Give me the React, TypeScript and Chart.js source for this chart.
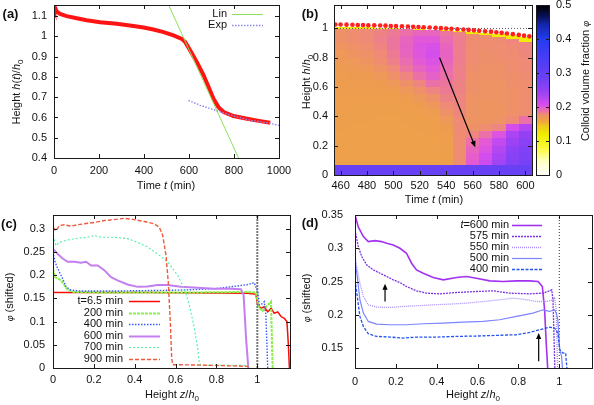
import React, { useEffect, useRef } from 'react';
import { Chart, registerables } from 'chart.js';

Chart.register(...registerables);

const PAGE_W = 594;
const PAGE_H = 405;
const FONT = '"Liberation Sans", Arial, Helvetica, sans-serif';

type Pt = [number, number];

// ---------------- (a) sediment height ----------------
const aXTicks = [0, 200, 400, 600, 800, 1000];
const aYTicks = [0.4, 0.5, 0.6, 0.7, 0.8, 0.9, 1, 1.1];
const aHeight: Pt[] = [
  [0, 1.156], [2, 1.148], [5, 1.142], [12, 1.123], [27, 1.111], [56, 1.1], [101, 1.09], [145, 1.08],
  [205, 1.07], [279, 1.062], [353, 1.051], [398, 1.044], [442, 1.034], [487, 1.021], [531, 1.005],
  [568, 0.988], [583, 0.972], [605, 0.931], [635, 0.873], [665, 0.808], [687, 0.75], [709, 0.692],
  [731, 0.651], [754, 0.627], [798, 0.607], [858, 0.594], [917, 0.582], [961, 0.574],
];
const aLin: Pt[] = [[509, 1.156], [820, 0.4]];
const aExp: Pt[] = [[598, 0.684], [650, 0.66], [724, 0.633], [798, 0.607], [872, 0.586], [947, 0.574], [1000, 0.561]];

// ---------------- (b) heat map ----------------
const bXTicks = [460, 480, 500, 520, 540, 560, 580, 600];
const bYTicks = [0, 0.2, 0.4, 0.6, 0.8, 1];
const cbTicks = [0, 0.1, 0.2, 0.3, 0.4, 0.5];
const heatTimes = [460, 470, 480, 490, 500, 510, 520, 530, 540, 550, 560, 570, 580, 590, 600];
const heatRowEdges = [0, 0.065, 0.1, 0.15, 0.2, 0.25, 0.3, 0.35, 0.4, 0.45, 0.5, 0.55, 0.6, 0.65, 0.7, 0.75, 0.8, 0.85, 0.9, 0.95, 1.0];
const heatPhi = [
  [0.29, 0.165, 0.165, 0.165, 0.165, 0.165, 0.166, 0.166, 0.166, 0.167, 0.167, 0.168, 0.168, 0.169, 0.17, 0.171, 0.172, 0.174, 0.176, 0.176],
  [0.29, 0.164, 0.165, 0.165, 0.165, 0.165, 0.165, 0.166, 0.166, 0.167, 0.167, 0.168, 0.169, 0.17, 0.171, 0.172, 0.174, 0.176, 0.178, 0.178],
  [0.29, 0.164, 0.165, 0.165, 0.165, 0.165, 0.165, 0.166, 0.166, 0.166, 0.167, 0.168, 0.169, 0.17, 0.172, 0.174, 0.176, 0.178, 0.18, 0.18],
  [0.29, 0.164, 0.165, 0.165, 0.165, 0.165, 0.165, 0.165, 0.166, 0.166, 0.167, 0.168, 0.17, 0.172, 0.175, 0.178, 0.18, 0.182, 0.184, 0.183],
  [0.29, 0.164, 0.165, 0.165, 0.165, 0.165, 0.165, 0.165, 0.166, 0.166, 0.167, 0.169, 0.172, 0.176, 0.18, 0.184, 0.186, 0.188, 0.188, 0.186],
  [0.29, 0.164, 0.165, 0.165, 0.165, 0.165, 0.165, 0.166, 0.166, 0.167, 0.169, 0.172, 0.176, 0.182, 0.188, 0.192, 0.195, 0.196, 0.195, 0.19],
  [0.29, 0.165, 0.165, 0.165, 0.165, 0.165, 0.166, 0.166, 0.167, 0.169, 0.172, 0.176, 0.182, 0.19, 0.196, 0.2, 0.204, 0.205, 0.202, 0.195],
  [0.29, 0.165, 0.165, 0.165, 0.165, 0.166, 0.166, 0.167, 0.169, 0.172, 0.176, 0.182, 0.19, 0.197, 0.202, 0.206, 0.21, 0.208, 0.202, 0.195],
  [0.29, 0.166, 0.166, 0.166, 0.167, 0.168, 0.17, 0.172, 0.176, 0.18, 0.183, 0.186, 0.188, 0.19, 0.192, 0.194, 0.196, 0.195, 0.192, 0.188],
  [0.29, 0.178, 0.178, 0.178, 0.178, 0.179, 0.18, 0.18, 0.181, 0.182, 0.182, 0.183, 0.183, 0.184, 0.184, 0.185, 0.185, 0.185, 0.185, 0.183],
  [0.29, 0.2, 0.198, 0.195, 0.19, 0.182, 0.176, 0.175, 0.175, 0.175, 0.175, 0.176, 0.176, 0.176, 0.177, 0.178, 0.178, 0.178, 0.179, 0.18],
  [0.29, 0.215, 0.212, 0.205, 0.2, 0.19, 0.178, 0.174, 0.174, 0.174, 0.175, 0.175, 0.175, 0.176, 0.176, 0.177, 0.177, 0.178, 0.178, 0.18],
  [0.29, 0.24, 0.235, 0.228, 0.22, 0.205, 0.182, 0.175, 0.174, 0.174, 0.175, 0.175, 0.175, 0.176, 0.176, 0.177, 0.178, 0.178, 0.179, 0.18],
  [0.29, 0.265, 0.26, 0.255, 0.245, 0.235, 0.21, 0.18, 0.176, 0.176, 0.176, 0.176, 0.177, 0.177, 0.178, 0.178, 0.179, 0.18, 0.182, 0.18],
  [0.29, 0.275, 0.272, 0.268, 0.26, 0.25, 0.23, 0.19, 0.178, 0.178, 0.178, 0.178, 0.178, 0.179, 0.18, 0.18, 0.181, 0.182, 0.184, 0.18],
];
const heatTop = [1.013, 1.011, 1.008, 1.006, 1.003, 0.999, 0.994, 0.991, 0.986, 0.98, 0.975, 0.968, 0.96, 0.952, 0.942];
const heatStripBottom = [0.998, 0.998, 0.997, 0.996, 0.995, 0.993, 0.99, 0.986, 0.98, 0.974, 0.965, 0.955, 0.942, 0.928, 0.91];
const heatStripPhi = 0.12;
const bInterface: Pt[] = [
  [456, 1.027], [460, 1.027], [464.5, 1.026], [469, 1.025], [473, 1.024], [477, 1.023], [481, 1.022], [485.5, 1.021],
  [490, 1.02], [494, 1.019], [498, 1.017], [502, 1.016], [506.5, 1.015], [511, 1.013], [515, 1.012], [519, 1.01],
  [523, 1.008], [527.5, 1.006], [532, 1.004], [536, 1.002], [540, 1.0], [544, 0.998], [548.5, 0.995], [553, 0.993],
  [557, 0.99], [561, 0.987], [565, 0.984], [569.5, 0.981], [574, 0.978], [578, 0.974], [582, 0.97], [586, 0.966],
  [590.5, 0.961], [595, 0.956], [599, 0.951], [603, 0.946],
];
const bRefLine: Pt[] = [[455, 1], [605, 1]];
const bArrow: Pt[] = [[535, 0.8], [562, 0.19]];

// ---------------- (c) profiles ----------------
const zTicks = [0, 0.2, 0.4, 0.6, 0.8, 1];
const cYTicks = [0, 0.05, 0.1, 0.15, 0.2, 0.25, 0.3];
const c65: Pt[] = [[0, 0.163], [0.46, 0.163], [0.79, 0.162], [0.953, 0.161], [0.993, 0.159], [1.002, 0.136], [1.018, 0.129], [1.034, 0.132], [1.051, 0.121], [1.067, 0.129], [1.083, 0.118], [1.1, 0.121], [1.116, 0.111], [1.132, 0.107], [1.145, 0.1], [1.152, 0.05], [1.157, 0]];
const c200: Pt[] = [[0, 0.214], [0.01, 0.196], [0.023, 0.193], [0.039, 0.189], [0.055, 0.179], [0.072, 0.168], [0.104, 0.164], [0.219, 0.163], [0.463, 0.163], [0.708, 0.163], [0.953, 0.164], [0.993, 0.163], [1.002, 0.143], [1.01, 0.129], [1.026, 0.123], [1.042, 0.132], [1.059, 0.139], [1.067, 0.143], [1.075, 0]];
const c400: Pt[] = [[0, 0.25], [0.01, 0.229], [0.02, 0.218], [0.031, 0.207], [0.047, 0.193], [0.064, 0.175], [0.088, 0.168], [0.137, 0.166], [0.219, 0.166], [0.3, 0.166], [0.463, 0.167], [0.626, 0.168], [0.79, 0.171], [0.887, 0.176], [0.953, 0.18], [0.985, 0.184], [1.002, 0.164], [1.01, 0.136], [1.026, 0.139], [1.034, 0.143], [1.042, 0.114], [1.051, 0]];
const c600: Pt[] = [[0, 0.257], [0.023, 0.246], [0.047, 0.236], [0.072, 0.229], [0.104, 0.229], [0.137, 0.227], [0.162, 0.229], [0.186, 0.221], [0.219, 0.221], [0.251, 0.211], [0.284, 0.196], [0.316, 0.189], [0.365, 0.18], [0.414, 0.175], [0.463, 0.176], [0.512, 0.179], [0.561, 0.179], [0.626, 0.175], [0.708, 0.173], [0.79, 0.171], [0.871, 0.171], [0.92, 0.17], [0.933, 0.157], [0.945, 0.064], [0.956, 0]];
const c700: Pt[] = [[0, 0.286], [0.015, 0.264], [0.031, 0.271], [0.072, 0.276], [0.121, 0.28], [0.17, 0.282], [0.202, 0.286], [0.235, 0.282], [0.3, 0.282], [0.365, 0.279], [0.414, 0.271], [0.463, 0.261], [0.512, 0.246], [0.561, 0.229], [0.61, 0.2], [0.643, 0.171], [0.667, 0.136], [0.692, 0.086], [0.708, 0.043], [0.716, 0.011], [0.724, 0.006], [0.953, 0.006], [0.961, 0]];
const c900: Pt[] = [[0, 0.3036], [0.015, 0.296], [0.031, 0.307], [0.055, 0.309], [0.088, 0.306], [0.121, 0.309], [0.153, 0.311], [0.202, 0.314], [0.251, 0.318], [0.3, 0.32], [0.349, 0.323], [0.398, 0.32], [0.447, 0.316], [0.496, 0.311], [0.52, 0.3036], [0.537, 0.286], [0.553, 0.243], [0.564, 0.186], [0.574, 0.1], [0.581, 0.021], [0.586, 0.007], [0.626, 0.007], [0.79, 0.0057], [0.953, 0.0036], [0.961, 0]];
const cRefLine: Pt[] = [[1, 0], [1, 0.33]];

// ---------------- (d) profiles ----------------
const dYTicks = [0.15, 0.2, 0.25, 0.3, 0.35];
const d600: Pt[] = [[0, 0.35], [0.016, 0.332], [0.041, 0.3175], [0.065, 0.31], [0.098, 0.3115], [0.13, 0.31], [0.155, 0.3075], [0.187, 0.305], [0.22, 0.3], [0.252, 0.2925], [0.277, 0.2775], [0.301, 0.2675], [0.334, 0.2625], [0.383, 0.256], [0.432, 0.2525], [0.497, 0.256], [0.546, 0.2575], [0.594, 0.255], [0.66, 0.251], [0.725, 0.25], [0.79, 0.251], [0.855, 0.251], [0.896, 0.25], [0.917, 0.2425], [0.928, 0.2075], [0.936, 0.1575], [0.945, 0.11]];
const d575: Pt[] = [[0.003, 0.3225], [0.016, 0.3025], [0.033, 0.2875], [0.057, 0.275], [0.09, 0.2675], [0.122, 0.2625], [0.155, 0.2575], [0.187, 0.2525], [0.22, 0.2485], [0.252, 0.2425], [0.301, 0.236], [0.35, 0.2325], [0.415, 0.2315], [0.497, 0.2335], [0.594, 0.235], [0.676, 0.236], [0.757, 0.2325], [0.855, 0.2315], [0.92, 0.2325], [0.953, 0.236], [0.963, 0.2375], [0.969, 0.2225], [0.974, 0.1675], [0.979, 0.11]];
const d550: Pt[] = [[0, 0.29], [0.008, 0.2725], [0.024, 0.2475], [0.041, 0.2275], [0.065, 0.215], [0.106, 0.2115], [0.171, 0.211], [0.236, 0.2125], [0.301, 0.2135], [0.383, 0.215], [0.464, 0.216], [0.546, 0.2175], [0.627, 0.22], [0.708, 0.2225], [0.774, 0.225], [0.822, 0.2235], [0.888, 0.22], [0.936, 0.22], [0.969, 0.2225], [0.977, 0.2265], [0.985, 0.2075], [0.992, 0.11]];
const d500: Pt[] = [[0, 0.2825], [0.011, 0.2575], [0.024, 0.2225], [0.041, 0.2025], [0.065, 0.19], [0.106, 0.186], [0.171, 0.185], [0.252, 0.185], [0.334, 0.1865], [0.432, 0.1875], [0.529, 0.189], [0.627, 0.19], [0.708, 0.1925], [0.79, 0.1975], [0.871, 0.2025], [0.92, 0.2075], [0.953, 0.205], [0.977, 0.2075], [0.985, 0.2025], [0.993, 0.1925], [1.002, 0.1475], [1.011, 0.1375], [1.018, 0.11]];
const d400: Pt[] = [[0, 0.2525], [0.011, 0.2275], [0.024, 0.1975], [0.041, 0.1825], [0.065, 0.1715], [0.106, 0.1675], [0.171, 0.1665], [0.236, 0.165], [0.301, 0.1665], [0.399, 0.1665], [0.497, 0.1675], [0.594, 0.168], [0.692, 0.169], [0.79, 0.17], [0.855, 0.1735], [0.904, 0.1775], [0.953, 0.1815], [0.977, 0.18], [0.993, 0.1725], [1.002, 0.1475], [1.018, 0.1425], [1.031, 0.1425], [1.037, 0.12], [1.044, 0.11]];
const dRefLine: Pt[] = [[1, 0.12], [1, 0.35]];
const dArrows: Pt[][] = [[[0.147, 0.22], [0.147, 0.2465]], [[0.899, 0.13], [0.899, 0.1725]]];

// ---------------- palette (colour map of panel b) ----------------
const palStops: number[][] = [
  [0, 255, 255, 255], [0.04, 255, 255, 200], [0.08, 250, 250, 60], [0.12, 240, 238, 0], [0.145, 240, 200, 30],
  [0.16, 238, 165, 65], [0.17, 238, 155, 82], [0.18, 238, 138, 118], [0.19, 236, 112, 168], [0.2, 228, 90, 212],
  [0.21, 212, 78, 236], [0.23, 178, 70, 242], [0.25, 148, 65, 245], [0.29, 105, 65, 245], [0.35, 70, 60, 245],
  [0.4, 35, 60, 240], [0.44, 20, 40, 180], [0.47, 10, 15, 80], [0.5, 0, 0, 0],
];
function palette(p: number): string {
  const s = palStops;
  if (p <= s[0][0]) return `rgb(${s[0][1]},${s[0][2]},${s[0][3]})`;
  for (let i = 1; i < s.length; i++) {
    if (p <= s[i][0]) {
      const f = (p - s[i - 1][0]) / (s[i][0] - s[i - 1][0]);
      const c = [1, 2, 3].map((k) => Math.round(s[i - 1][k] + f * (s[i][k] - s[i - 1][k])));
      return `rgb(${c[0]},${c[1]},${c[2]})`;
    }
  }
  const l = s[s.length - 1];
  return `rgb(${l[1]},${l[2]},${l[3]})`;
}

// ---------------- drawing helpers ----------------
interface Seg { t: string; i?: boolean; sub?: boolean; sz?: number; b?: boolean }
interface TitleSpec { x: number; y: number; rot?: number; segs: Seg[]; size?: number }
interface LegendSpec { x: number; y: number; dy: number; len: number; gap: number }
interface PanelSpec {
  titles: TitleSpec[];
  legend?: LegendSpec;
  arrows?: Pt[][];
  heat?: boolean;
  colorbar?: boolean;
  tickLen: number;
}

function segFont(s: Seg, size: number) {
  const sz = s.sz ?? (s.sub ? Math.round(size * 0.72) : size);
  return `${s.i ? 'italic ' : ''}${s.b ? 'bold ' : ''}${sz}px ${FONT}`;
}

function drawRich(ctx: CanvasRenderingContext2D, segs: Seg[], x: number, y: number, rot: number, size: number, align: 'center' | 'right' | 'left') {
  ctx.save();
  ctx.translate(x, y);
  if (rot) ctx.rotate(rot);
  let total = 0;
  const widths = segs.map((s) => {
    ctx.font = segFont(s, size);
    const w = ctx.measureText(s.t).width;
    total += w;
    return w;
  });
  let cx = align === 'center' ? -total / 2 : align === 'right' ? -total : 0;
  ctx.textBaseline = 'middle';
  ctx.textAlign = 'left';
  ctx.fillStyle = '#111';
  segs.forEach((s, k) => {
    ctx.font = segFont(s, size);
    ctx.fillText(s.t, cx, s.sub ? size * 0.32 : 0);
    cx += widths[k];
  });
  ctx.restore();
}

function drawHeat(chart: any) {
  const { ctx } = chart;
  const xs = chart.scales.x;
  const ys = chart.scales.y;
  heatTimes.forEach((t, c) => {
    const x0 = Math.round(xs.getPixelForValue(t - 5));
    const x1 = Math.round(xs.getPixelForValue(t + 5));
    const yb = heatStripBottom[c];
    heatPhi[c].forEach((phi, r) => {
      const lo = heatRowEdges[r];
      if (lo >= yb) return;
      const hi = Math.min(heatRowEdges[r + 1], yb);
      const y0 = Math.round(ys.getPixelForValue(hi));
      const y1 = Math.round(ys.getPixelForValue(lo));
      ctx.fillStyle = palette(phi);
      ctx.fillRect(x0, y0, x1 - x0, y1 - y0);
    });
    const yt = Math.round(ys.getPixelForValue(heatTop[c]));
    const ybp = Math.round(ys.getPixelForValue(yb));
    ctx.fillStyle = palette(heatStripPhi);
    ctx.fillRect(x0, yt, x1 - x0, ybp - yt);
  });
}

function drawColorbar(chart: any) {
  const { ctx, chartArea: a } = chart;
  const ys = chart.scales.y;
  const step = 0.0025;
  for (let v = 0; v < 0.5; v += step) {
    const y0 = ys.getPixelForValue(v + step);
    const y1 = ys.getPixelForValue(v);
    ctx.fillStyle = palette(v + step / 2);
    ctx.fillRect(a.left, Math.floor(y0), a.right - a.left, Math.ceil(y1) - Math.floor(y0));
  }
}

function drawArrow(ctx: CanvasRenderingContext2D, x0: number, y0: number, x1: number, y1: number) {
  const ang = Math.atan2(y1 - y0, x1 - x0);
  const hl = 6;
  const hw = 2.6;
  ctx.save();
  ctx.strokeStyle = '#000';
  ctx.fillStyle = '#000';
  ctx.lineWidth = 1.2;
  ctx.beginPath();
  ctx.moveTo(x0, y0);
  ctx.lineTo(x1 - Math.cos(ang) * hl * 0.8, y1 - Math.sin(ang) * hl * 0.8);
  ctx.stroke();
  ctx.beginPath();
  ctx.moveTo(x1, y1);
  ctx.lineTo(x1 - Math.cos(ang) * hl - Math.sin(ang) * hw, y1 - Math.sin(ang) * hl + Math.cos(ang) * hw);
  ctx.lineTo(x1 - Math.cos(ang) * hl + Math.sin(ang) * hw, y1 - Math.sin(ang) * hl - Math.cos(ang) * hw);
  ctx.closePath();
  ctx.fill();
  ctx.restore();
}

function makePlugin(spec: PanelSpec) {
  return {
    id: 'gnuframe',
    beforeDatasetsDraw(chart: any) {
      const { ctx, chartArea: a } = chart;
      ctx.save();
      ctx.beginPath();
      ctx.rect(a.left, a.top, a.right - a.left, a.bottom - a.top);
      ctx.clip();
      if (spec.heat) drawHeat(chart);
      if (spec.colorbar) drawColorbar(chart);
      ctx.restore();
    },
    afterDatasetsDraw(chart: any) {
      if (!spec.arrows) return;
      const { ctx } = chart;
      const xs = chart.scales.x;
      const ys = chart.scales.y;
      spec.arrows.forEach(([p0, p1]) => {
        drawArrow(ctx, xs.getPixelForValue(p0[0]), ys.getPixelForValue(p0[1]), xs.getPixelForValue(p1[0]), ys.getPixelForValue(p1[1]));
      });
    },
    afterDraw(chart: any) {
      const { ctx, chartArea: a } = chart;
      const L = spec.tickLen;
      ctx.save();
      ctx.strokeStyle = '#1a1a1a';
      ctx.lineWidth = 1;
      ctx.setLineDash([]);
      ctx.beginPath();
      const xs = chart.scales.x;
      const ys = chart.scales.y;
      if (xs && xs.options.display !== false) {
        xs.ticks.forEach((t: any) => {
          const px = Math.round(xs.getPixelForValue(t.value)) + 0.5;
          ctx.moveTo(px, a.bottom);
          ctx.lineTo(px, a.bottom - L);
          ctx.moveTo(px, a.top);
          ctx.lineTo(px, a.top + L);
        });
      }
      if (ys) {
        ys.ticks.forEach((t: any) => {
          const py = Math.round(ys.getPixelForValue(t.value)) + 0.5;
          ctx.moveTo(a.left, py);
          ctx.lineTo(a.left + L, py);
          ctx.moveTo(a.right, py);
          ctx.lineTo(a.right - L, py);
        });
      }
      ctx.stroke();
      ctx.strokeRect(Math.round(a.left) + 0.5, Math.round(a.top) + 0.5, Math.round(a.right - a.left), Math.round(a.bottom - a.top));
      ctx.restore();

      spec.titles.forEach((t) => drawRich(ctx, t.segs, t.x, t.y, t.rot ?? 0, t.size ?? 11, 'center'));

      if (spec.legend) {
        const lg = spec.legend;
        const items = chart.data.datasets.filter((d: any) => d.lg).sort((p: any, q: any) => p.lgOrder - q.lgOrder);
        items.forEach((d: any, k: number) => {
          const yy = lg.y + k * lg.dy;
          drawRich(ctx, d.lg, lg.x, yy, 0, 11, 'right');
          ctx.save();
          ctx.strokeStyle = d.borderColor;
          ctx.lineWidth = d.borderWidth;
          ctx.setLineDash(d.borderDash || []);
          ctx.beginPath();
          ctx.moveTo(lg.x + lg.gap, Math.round(yy) + 0.5);
          ctx.lineTo(lg.x + lg.gap + lg.len, Math.round(yy) + 0.5);
          ctx.stroke();
          ctx.restore();
        });
      }
    },
  };
}

function ds(points: Pt[], color: string, width: number, dash: number[] = [], extra: any = {}) {
  return {
    data: points.map(([x, y]) => ({ x, y })),
    borderColor: color,
    backgroundColor: color,
    borderWidth: width,
    borderDash: dash,
    pointRadius: 0,
    tension: 0,
    fill: false,
    ...extra,
  };
}

function fmt(v: number) {
  return String(Math.round(v * 1000) / 1000);
}

function axis(min: number, max: number, ticks: number[], horizontal: boolean, size: number, pad: number, position?: string, display = true) {
  return {
    type: 'linear',
    min,
    max,
    display,
    position: position ?? (horizontal ? 'bottom' : 'left'),
    grid: { display: false, drawTicks: false },
    border: { display: false },
    ticks: {
      padding: pad,
      autoSkip: false,
      maxRotation: 0,
      minRotation: 0,
      color: '#111',
      font: { family: FONT, size: 11 },
      callback: (v: any) => fmt(Number(v)),
    },
    afterBuildTicks: (s: any) => {
      s.ticks = ticks.map((v) => ({ value: v }));
    },
    afterFit: (s: any) => {
      if (horizontal) s.height = size;
      else s.width = size;
      s.paddingLeft = 0;
      s.paddingRight = 0;
      s.paddingTop = 0;
      s.paddingBottom = 0;
    },
  };
}

function area(l: number, t: number, r: number, b: number, yw: number, xh: number, yRight = false) {
  return yRight
    ? { left: l, top: t, right: PAGE_W - r - yw, bottom: PAGE_H - b - xh }
    : { left: l - yw, top: t, right: PAGE_W - r, bottom: PAGE_H - b - xh };
}

function baseOptions(padding: any, scales: any) {
  return {
    animation: false,
    responsive: false,
    maintainAspectRatio: false,
    devicePixelRatio: 1,
    events: [],
    layout: { padding },
    plugins: { legend: { display: false }, tooltip: { enabled: false } },
    scales,
  };
}

const ROT = -Math.PI / 2;

function configA() {
  return {
    type: 'line',
    data: {
      datasets: [
        ds(aExp, '#8a8af2', 1.4, [1.5, 1.5], { lg: [{ t: 'Exp' }], lgOrder: 2 }),
        ds(aLin, '#8fe05c', 1, [], { lg: [{ t: 'Lin' }], lgOrder: 1 }),
        ds(aHeight, '#ff1414', 4),
      ],
    },
    options: baseOptions(area(54, 5, 279, 158, 54, 42), {
      x: axis(0, 1000, aXTicks, true, 42, 6),
      y: axis(0.4, 1.155, aYTicks, false, 54, 7),
    }),
    plugins: [
      makePlugin({
        tickLen: 4,
        legend: { x: 227, y: 14, dy: 11, len: 31, gap: 5 },
        titles: [
          { x: 10.5, y: 14.5, segs: [{ t: '(a)', b: true }], size: 13 },
          { x: 17, y: 92, rot: ROT, segs: [{ t: 'Height ' }, { t: 'h', i: true }, { t: '(' }, { t: 't', i: true }, { t: ')/' }, { t: 'h', i: true }, { t: '0', sub: true }] },
          { x: 166, y: 186, segs: [{ t: 'Time ' }, { t: 't', i: true }, { t: ' (min)' }] },
        ],
      }),
    ],
  };
}

function configB() {
  return {
    type: 'line',
    data: {
      datasets: [
        ds(bInterface, '#ff2020', 0, [], { showLine: false, pointRadius: 2.3, pointBorderWidth: 0, pointBackgroundColor: '#ff2020' }),
        ds(bRefLine, '#555555', 1, [1, 2]),
      ],
    },
    options: baseOptions(area(334, 5, 532, 175, 40, 30), {
      x: axis(455, 605, bXTicks, true, 30, 4),
      y: axis(0, 1.16, bYTicks, false, 40, 6),
    }),
    plugins: [
      makePlugin({
        tickLen: 4,
        heat: true,
        arrows: [bArrow],
        titles: [
          { x: 310, y: 14, segs: [{ t: '(b)', b: true }], size: 13 },
          { x: 307, y: 82, rot: ROT, segs: [{ t: 'Height ' }, { t: 'h', i: true }, { t: '/' }, { t: 'h', i: true }, { t: '0', sub: true }] },
          { x: 434, y: 200, segs: [{ t: 'Time ' }, { t: 't', i: true }, { t: ' (min)' }] },
        ],
      }),
    ],
  };
}

function configBar() {
  return {
    type: 'scatter',
    data: { datasets: [] },
    options: baseOptions(area(536, 5, 549, 175, 45, 0, true), {
      x: axis(0, 1, [0, 1], true, 0, 0, 'bottom', false),
      y: axis(0, 0.5, cbTicks, false, 45, 7, 'right'),
    }),
    plugins: [
      makePlugin({
        tickLen: 3,
        colorbar: true,
        titles: [{ x: 586, y: 81, rot: ROT, segs: [{ t: 'Colloid volume fraction ' }, { t: 'φ', i: true, sz: 9 }] }],
      }),
    ],
  };
}

function configC() {
  return {
    type: 'line',
    data: {
      datasets: [
        ds(c900, '#f05a3c', 1.4, [4, 2], { lg: [{ t: '900 min' }], lgOrder: 6 }),
        ds(c700, '#4cf0a4', 1.1, [2, 2], { lg: [{ t: '700 min' }], lgOrder: 5 }),
        ds(c600, '#c47ef0', 2, [], { lg: [{ t: '600 min' }], lgOrder: 4 }),
        ds(c400, '#3a5cff', 1.4, [1.5, 1.5], { lg: [{ t: '400 min' }], lgOrder: 3 }),
        ds(c200, '#8cf04a', 2, [3, 1], { lg: [{ t: '200 min' }], lgOrder: 2 }),
        ds(c65, '#ff0a0a', 1.5, [], { lg: [{ t: 't=6.5 min' }], lgOrder: 1 }),
        ds(cRefLine, '#7a7a7a', 2, [2, 1]),
      ],
    },
    options: baseOptions(area(53, 215, 290, 368, 53, 30), {
      x: axis(0, 1.16, zTicks, true, 30, 5),
      y: axis(0, 0.33, cYTicks, false, 53, 8),
    }),
    plugins: [
      makePlugin({
        tickLen: 4,
        legend: { x: 123, y: 301, dy: 11.5, len: 31, gap: 6 },
        titles: [
          { x: 9, y: 224, segs: [{ t: '(c)', b: true }], size: 13 },
          { x: 10, y: 297, rot: ROT, segs: [{ t: 'φ', i: true, sz: 9 }, { t: ' (shifted)' }] },
          { x: 172, y: 395, segs: [{ t: 'Height ' }, { t: 'z', i: true }, { t: '/' }, { t: 'h', i: true }, { t: '0', sub: true }] },
        ],
      }),
    ],
  };
}

function configD() {
  return {
    type: 'line',
    data: {
      datasets: [
        ds(d400, '#2453f0', 1.3, [3, 1.5], { lg: [{ t: '400 min' }], lgOrder: 5 }),
        ds(d500, '#7c84ff', 1.2, [], { lg: [{ t: '500 min' }], lgOrder: 4 }),
        ds(d550, '#a88ef6', 1.3, [1, 1], { lg: [{ t: '550 min' }], lgOrder: 3 }),
        ds(d575, '#7a34e2', 1.3, [2, 1], { lg: [{ t: '575 min' }], lgOrder: 2 }),
        ds(d600, '#a232f0', 1.6, [], { lg: [{ t: 't', i: true }, { t: '=600 min' }], lgOrder: 1 }),
        ds(dRefLine, '#333333', 1, [1, 2]),
      ],
    },
    options: baseOptions(area(355, 215, 592, 368, 55, 30), {
      x: axis(0, 1.16, zTicks, true, 30, 7),
      y: axis(0.12, 0.35, dYTicks, false, 55, 12),
    }),
    plugins: [
      makePlugin({
        tickLen: 4,
        arrows: dArrows,
        legend: { x: 509, y: 225, dy: 11.1, len: 30, gap: 3 },
        titles: [
          { x: 310, y: 223.5, segs: [{ t: '(d)', b: true }], size: 13 },
          { x: 307, y: 298, rot: ROT, segs: [{ t: 'φ', i: true, sz: 9 }, { t: ' (shifted)' }] },
          { x: 473, y: 395, segs: [{ t: 'Height ' }, { t: 'z', i: true }, { t: '/' }, { t: 'h', i: true }, { t: '0', sub: true }] },
        ],
      }),
    ],
  };
}

function ChartLayer({ build }: { build: () => any }) {
  const ref = useRef<HTMLCanvasElement>(null);
  useEffect(() => {
    if (!ref.current) return;
    const chart = new Chart(ref.current, build());
    return () => chart.destroy();
  }, []);
  return (
    <canvas
      ref={ref}
      width={PAGE_W}
      height={PAGE_H}
      style={{ position: 'absolute', left: 0, top: 0, width: PAGE_W, height: PAGE_H }}
    />
  );
}

export default function App() {
  return (
    <div style={{ position: 'absolute', left: 0, top: 0, width: PAGE_W, height: PAGE_H, background: '#fff', overflow: 'hidden' }}>
      <ChartLayer build={configB} />
      <ChartLayer build={configBar} />
      <ChartLayer build={configA} />
      <ChartLayer build={configC} />
      <ChartLayer build={configD} />
    </div>
  );
}
